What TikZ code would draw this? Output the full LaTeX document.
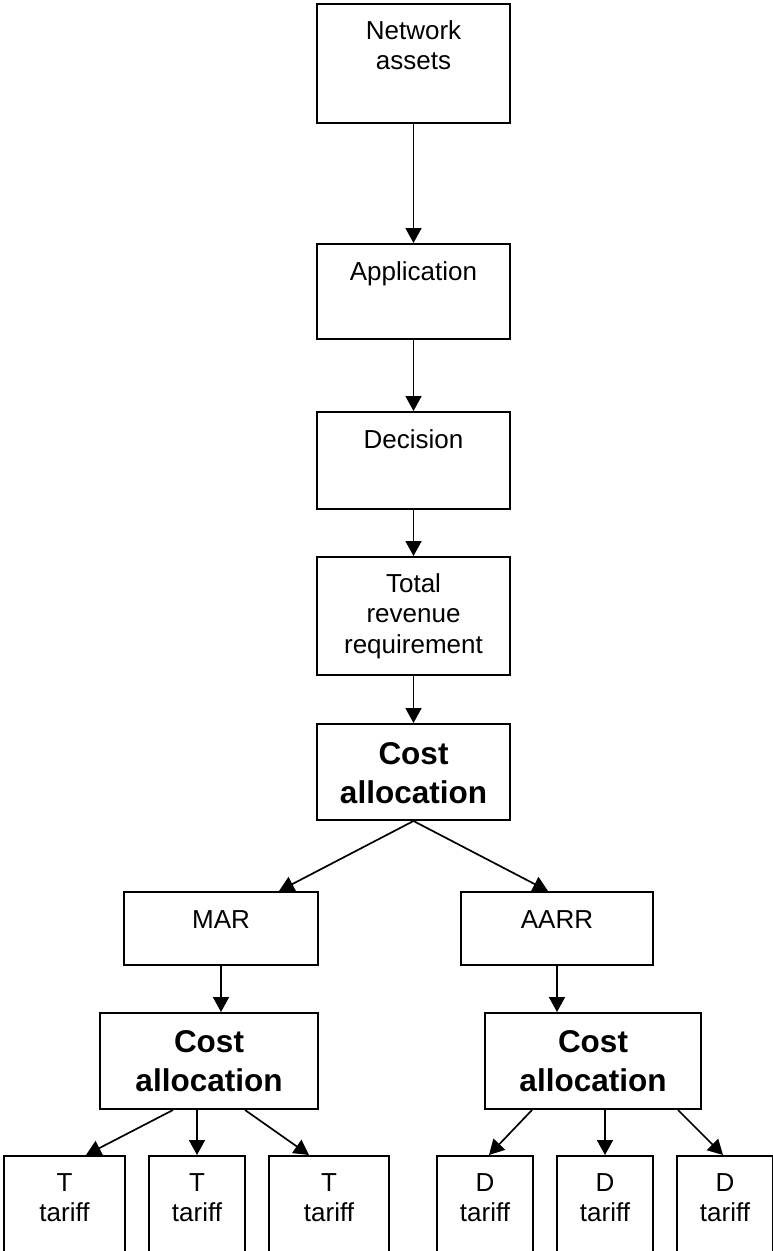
\documentclass[tikz,border=0pt]{standalone}
\usepackage{fontspec}
\setmainfont{Liberation Sans}
\usepackage{tikz}
\usetikzlibrary{arrows.meta}

\newcommand{\boxfont}{\fontsize{26}{30.5}\selectfont}
\newcommand{\costfont}{\fontsize{31.5}{39}\selectfont\bfseries}

\begin{document}
\begin{tikzpicture}[x=1pt,y=-1pt,
	box/.style={draw,line width=2pt,inner sep=0pt,anchor=north west,align=center,font=\boxfont,text height=35pt},
	costbox/.style={box,font=\costfont,text height=39pt},
	arr/.style={line width=1.7pt,-{Triangle[length=15pt,width=16pt]}}]
	\useasboundingbox (0,0) rectangle (772,1251);
	% main chain
	\node[box,text width=193pt,text depth=84pt] (net) at (316,3) {Network\\assets};
	\node[box,text width=193pt,text height=36pt,text depth=59pt] (app) at (316,243) {Application};
	\node[box,text width=193pt,text height=36pt,text depth=61pt] (dec) at (316,411) {Decision};
	\node[box,text width=193pt,text depth=83pt] (trr) at (316,556) {Total\\revenue\\requirement};
	\node[costbox,text width=193pt,text height=40pt,text depth=56pt] (cost) at (316,723) {Cost\\allocation};
	% two branches
	\node[box,text width=194pt,text height=36pt,text depth=37pt] (mar) at (123,891) {MAR};
	\node[box,text width=192pt,text height=36pt,text depth=37pt] (aarr) at (460,891) {AARR};
	\node[costbox,text width=218pt,text depth=57pt] (cl) at (99,1012) {Cost\\allocation};
	\node[costbox,text width=216pt,text depth=57pt] (cr) at (484,1012) {Cost\\allocation};
	% tariffs
	\node[box,text width=121pt,text depth=62pt] (t1) at (3,1155) {T\\tariff};
	\node[box,text width=96pt,text depth=62pt] (t2) at (148,1155) {T\\tariff};
	\node[box,text width=120pt,text depth=62pt] (t3) at (268,1155) {T\\tariff};
	\node[box,text width=96pt,text depth=62pt] (d1) at (436,1155) {D\\tariff};
	\node[box,text width=96pt,text depth=62pt] (d2) at (556,1155) {D\\tariff};
	\node[box,text width=96pt,text depth=62pt] (d3) at (676,1155) {D\\tariff};

	\draw[arr] (net) -- (app);
	\draw[arr] (app) -- (dec);
	\draw[arr] (dec) -- (trr);
	\draw[arr] (trr) -- (cost);
	\draw[arr] (cost.south) -- ([xshift=58pt]mar.north);
	\draw[arr] (cost.south) -- ([xshift=-9pt]aarr.north);
	\draw[arr] (mar.south) -- (mar.south |- cl.north);
	\draw[arr] (aarr.south) -- (aarr.south |- cr.north);
	\draw[arr] ([xshift=-36pt]cl.south) -- ([xshift=21.5pt]t1.north);
	\draw[arr] (t2.north |- cl.south) -- (t2.north);
	\draw[arr] ([xshift=36pt]cl.south) -- ([xshift=-20pt]t3.north);
	\draw[arr] ([xshift=-61pt]cr.south) -- ([xshift=4pt]d1.north);
	\draw[arr] (d2.north |- cr.south) -- (d2.north);
	\draw[arr] ([xshift=85pt]cr.south) -- ([xshift=-2pt]d3.north);
\end{tikzpicture}
\end{document}
